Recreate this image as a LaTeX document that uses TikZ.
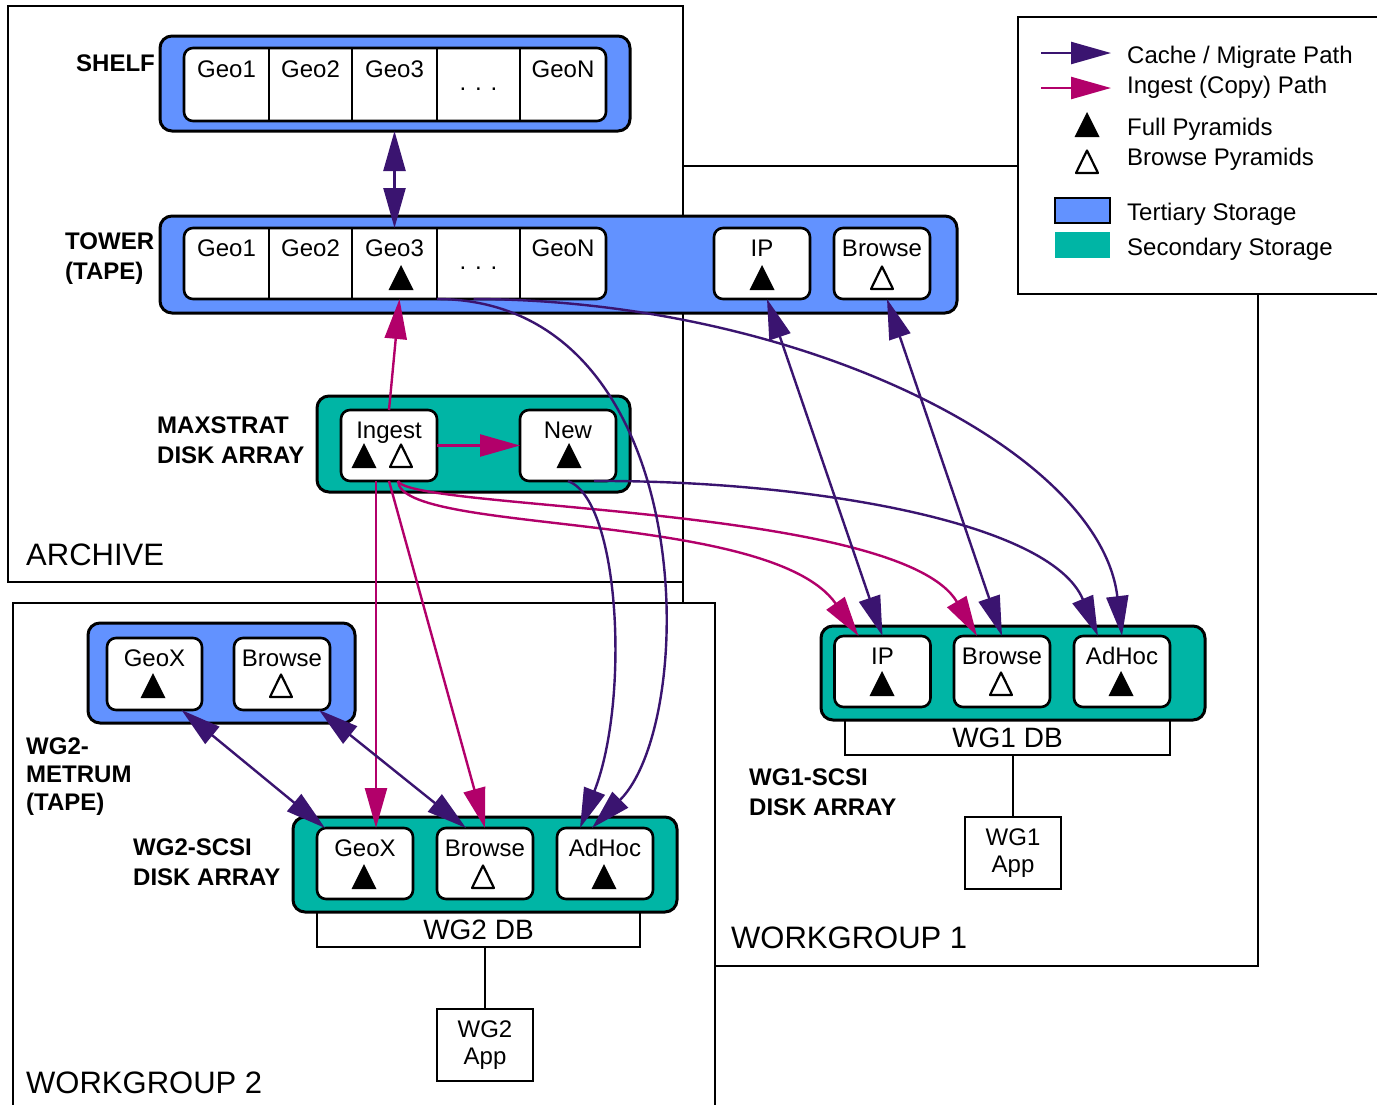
\documentclass[tikz,border=0pt]{standalone}
\usepackage{fontspec}
\setmainfont{Liberation Sans}
\usetikzlibrary{arrows.meta}
\definecolor{tert}{RGB}{98,146,255}
\definecolor{secd}{RGB}{0,181,165}
\definecolor{purp}{RGB}{58,20,112}
\definecolor{magn}{RGB}{178,0,106}

\begin{document}
\begin{tikzpicture}[x=1pt, y=-1pt,
  every node/.append style={font=\fontsize{24pt}{28pt}\selectfont},
  zone/.style={draw, fill=white, line width=2.6pt},
  tertiary/.style={draw, fill=tert, rounded corners=12pt, line width=3pt, inner sep=0pt, outer sep=0pt},
  secondary/.style={draw, fill=secd, rounded corners=12pt, line width=3pt, inner sep=0pt, outer sep=0pt},
  strip/.style={draw, fill=white, rounded corners=9pt, line width=2.6pt, inner sep=0pt, outer sep=0pt},
  slot/.style={inner sep=0pt, outer sep=0pt, text height=18pt, text depth=33pt},
  pbox/.style={draw, fill=white, rounded corners=9pt, line width=2.6pt, inner sep=0pt, outer sep=0pt, minimum width=96pt, minimum height=71pt, text height=18pt, text depth=33pt},
  dbbox/.style={draw, fill=white, line width=2.6pt, inner sep=0pt, outer sep=0pt, minimum height=35pt, font=\fontsize{28pt}{32pt}\selectfont},
  appbox/.style={draw, fill=white, line width=2.6pt, inner sep=0pt, outer sep=0pt, minimum width=96pt, minimum height=72pt, align=center, font=\fontsize{24pt}{27pt}\selectfont},
  tag/.style={anchor=west, align=left, inner sep=0pt, font=\fontsize{24pt}{30pt}\selectfont\bfseries},
  grp/.style={anchor=base west, inner sep=0pt, font=\fontsize{31pt}{36pt}\selectfont},
  ltext/.style={anchor=base west, inner sep=0pt},
  divider/.style={line width=2.6pt},
  link/.style={line width=2.6pt},
  cachepath/.style={draw=purp, line width=2.4pt, >={Triangle[length=40pt, width=22pt]}},
  ingestpath/.style={draw=magn, line width=2.4pt, >={Triangle[length=40pt, width=22pt]}},
  fullpyr/.pic={\fill[line join=round] (-12.5,12) -- (0,-13) -- (12.5,12) -- cycle;},
  openpyr/.pic={\draw[line width=2.2pt, fill=white, line join=round] (-11,11) -- (0,-11.5) -- (11,11) -- cycle;}
]
  \useasboundingbox (0,0) rectangle (1377,1104);
  % group frames
  \draw[zone] (683,166) rectangle (1258,966);
  \draw[zone] (8,6) rectangle (683,582);
  \draw[zone] (13,603) rectangle (715,1120);
  \draw[zone] (1018,17) rectangle (1400,294);

  % storage units
  \node[tertiary, minimum width=470pt, minimum height=95pt] (shelf) at (395,83.5) {};
  \node[tertiary, minimum width=797pt, minimum height=97pt] (tower) at (558.5,264.5) {};
  \node[secondary, minimum width=313pt, minimum height=96pt] (maxstrat) at (473.5,444) {};
  \node[tertiary, minimum width=267pt, minimum height=100pt] (metrum) at (221.5,673) {};
  \node[dbbox, minimum width=323pt] (w2db) at (478.5,929.5) {WG2 DB};
  \node[secondary, minimum width=384pt, minimum height=95pt] (wg2disk) at (485,864.5) {};
  \node[dbbox, minimum width=325pt] (w1db) at (1007.5,737.5) {WG1 DB};
  \node[secondary, minimum width=384pt, minimum height=94pt] (wg1disk) at (1013,673) {};

  % shelf slots
  \node[strip, minimum width=422pt, minimum height=73pt] (sstrip) at (395,84.5) {};
  \node[slot, minimum width=85pt, minimum height=73pt] (sg1) at (226.5,84.5) {Geo1};
  \node[slot, minimum width=83pt, minimum height=73pt] (sg2) at (310.5,84.5) {Geo2};
  \node[slot, minimum width=85pt, minimum height=73pt] (sg3) at (394.5,84.5) {Geo3};
  \node[slot, minimum width=83pt, minimum height=73pt, text height=11pt, text depth=0pt] (sgd) at (478.5,84.5) {. . .};
  \node[slot, minimum width=86pt, minimum height=73pt] (sgn) at (563,84.5) {GeoN};
  \draw[divider] (sg1.north east) -- (sg1.south east);
  \draw[divider] (sg2.north east) -- (sg2.south east);
  \draw[divider] (sg3.north east) -- (sg3.south east);
  \draw[divider] (sgd.north east) -- (sgd.south east);

  % tower slots
  \node[strip, minimum width=422pt, minimum height=71pt] (tstrip) at (395,263.5) {};
  \node[slot, minimum width=85pt, minimum height=71pt] (tg1) at (226.5,263.5) {Geo1};
  \node[slot, minimum width=83pt, minimum height=71pt] (tg2) at (310.5,263.5) {Geo2};
  \node[slot, minimum width=85pt, minimum height=71pt] (tg3) at (394.5,263.5) {Geo3};
  \node[slot, minimum width=83pt, minimum height=71pt, text height=11pt, text depth=0pt] (tgd) at (478.5,263.5) {. . .};
  \node[slot, minimum width=86pt, minimum height=71pt] (tgn) at (563,263.5) {GeoN};
  \draw[divider] (tg1.north east) -- (tg1.south east);
  \draw[divider] (tg2.north east) -- (tg2.south east);
  \draw[divider] (tg3.north east) -- (tg3.south east);
  \draw[divider] (tgd.north east) -- (tgd.south east);
  \node[pbox] (tip) at (762,263.5) {IP};
  \node[pbox] (tbrowse) at (882,263.5) {Browse};

  % disk array contents
  \node[pbox] (ingest) at (389,445.5) {Ingest};
  \node[pbox] (new) at (568,445.5) {New};
  \node[pbox, minimum width=95pt, minimum height=72pt] (m2geox) at (154.5,674) {GeoX};
  \node[pbox, minimum width=96pt, minimum height=72pt] (m2browse) at (282,674) {Browse};
  \node[pbox] (w2geox) at (365,863.5) {GeoX};
  \node[pbox] (w2browse) at (485,863.5) {Browse};
  \node[pbox] (w2adhoc) at (605,863.5) {AdHoc};
  \node[pbox] (w1ip) at (882.5,671.5) {IP};
  \node[pbox] (w1browse) at (1002,671.5) {Browse};
  \node[pbox] (w1adhoc) at (1122,671.5) {AdHoc};
  \node[appbox] (w2app) at (485,1045) {WG2\\App};
  \node[appbox] (w1app) at (1013,853) {WG1\\App};
  \draw[link] (w2app.north) -- (w2app.north |- w2db.south);
  \draw[link] (w1app.north) -- (w1app.north |- w1db.south);

  % pyramids
  \pic at (401,278) {fullpyr};
  \pic at (762,278) {fullpyr};
  \pic at (882,278) {openpyr};
  \pic at (364,456) {fullpyr};
  \pic at (401,456) {openpyr};
  \pic at (569,456) {fullpyr};
  \pic at (153,686) {fullpyr};
  \pic at (281,686) {openpyr};
  \pic at (364,877) {fullpyr};
  \pic at (483,877) {openpyr};
  \pic at (604,877) {fullpyr};
  \pic at (882,684) {fullpyr};
  \pic at (1001,684) {openpyr};
  \pic at (1121,684) {fullpyr};

  % ingest (copy) paths
  \draw[ingestpath, ->] (ingest.north) -- ([xshift=5pt]tg3.south);
  \draw[ingestpath, ->] (ingest.east) -- (new.west |- ingest.east);
  \draw[ingestpath, ->] ([xshift=-13pt]ingest.south) -- ([xshift=-13pt]ingest.south |- w2geox.north);
  \draw[ingestpath, ->] (ingest.south) -- (w2browse.north);
  \draw[ingestpath, ->] ([xshift=9pt]ingest.south) .. controls (400,535) and (770,510) .. ([xshift=-24pt]w1ip.north);
  \draw[ingestpath, ->] ([xshift=9pt]ingest.south) .. controls (410,510) and (900,505) .. ([xshift=-25pt]w1browse.north);

  % cache / migrate paths
  \draw[cachepath, <->] (sg3 |- shelf.south) -- (tg3.north);
  \draw[cachepath, <->] ([xshift=5pt]tip.south) -- (w1ip.north);
  \draw[cachepath, <->] ([xshift=5pt]tbrowse.south) -- (w1browse.north);
  \draw[cachepath, ->] (tg3.south east) .. controls (700,300) and (700,720) .. ([xshift=-13pt]w2adhoc.north);
  \draw[cachepath, ->] ([xshift=-5pt]tgd.south) .. controls (800,300) and (1100,450) .. (w1adhoc.north);
  \draw[cachepath, ->] (new.south) .. controls (620,500) and (630,700) .. ([xshift=-25pt]w2adhoc.north);
  \draw[cachepath, ->] ([xshift=26pt]new.south) .. controls (800,480) and (1050,520) .. ([xshift=-24pt]w1adhoc.north);
  \draw[cachepath, <->] ([xshift=27pt]m2geox.south) -- ([xshift=-40pt]w2geox.north);
  \draw[cachepath, <->] ([xshift=37pt]m2browse.south) -- ([xshift=-19pt]w2browse.north);

  % labels
  \node[tag] (shelftag) at (76,63.5) {SHELF};
  \node[tag] (towertag) at (65,259) {TOWER\\(TAPE)};
  \node[tag] (maxtag) at (157,440.5) {MAXSTRAT\\DISK ARRAY};
  \node[tag, font=\fontsize{24pt}{28pt}\selectfont\bfseries] (metrumtag) at (26,776.5) {WG2-\\METRUM\\(TAPE)};
  \node[tag] (wg2tag) at (133,862) {WG2-SCSI\\DISK ARRAY};
  \node[tag] (wg1tag) at (749,792) {WG1-SCSI\\DISK ARRAY};
  \node[grp] (archivetitle) at (26,565) {ARCHIVE};
  \node[grp] (wg2title) at (26,1093) {WORKGROUP 2};
  \node[grp] (wg1title) at (731,948) {WORKGROUP 1};

  % legend
  \coordinate (lcfrom) at (1041,53);
  \coordinate (lcto) at (1111,53);
  \draw[cachepath, ->] (lcfrom) -- (lcto);
  \coordinate (lifrom) at (1041,88);
  \coordinate (lito) at (1111,88);
  \draw[ingestpath, ->] (lifrom) -- (lito);
  \pic at (1087,125) {fullpyr};
  \pic at (1087,162) {openpyr};
  \node[draw, fill=tert, line width=2.6pt, minimum width=55pt, minimum height=25pt, inner sep=0pt] (ltert) at (1082.5,210.5) {};
  \node[fill=secd, minimum width=55pt, minimum height=26pt, inner sep=0pt] (lsecd) at (1082.5,245) {};
  \node[ltext] (lcache) at (1127,63) {Cache / Migrate Path};
  \node[ltext] (lingest) at (1127,93) {Ingest (Copy) Path};
  \node[ltext] (lfull) at (1127,135) {Full Pyramids};
  \node[ltext] (lbrowse) at (1127,165) {Browse Pyramids};
  \node[ltext] (ltertiary) at (1127,220) {Tertiary Storage};
  \node[ltext] (lsecondary) at (1127,255) {Secondary Storage};
\end{tikzpicture}
\end{document}
